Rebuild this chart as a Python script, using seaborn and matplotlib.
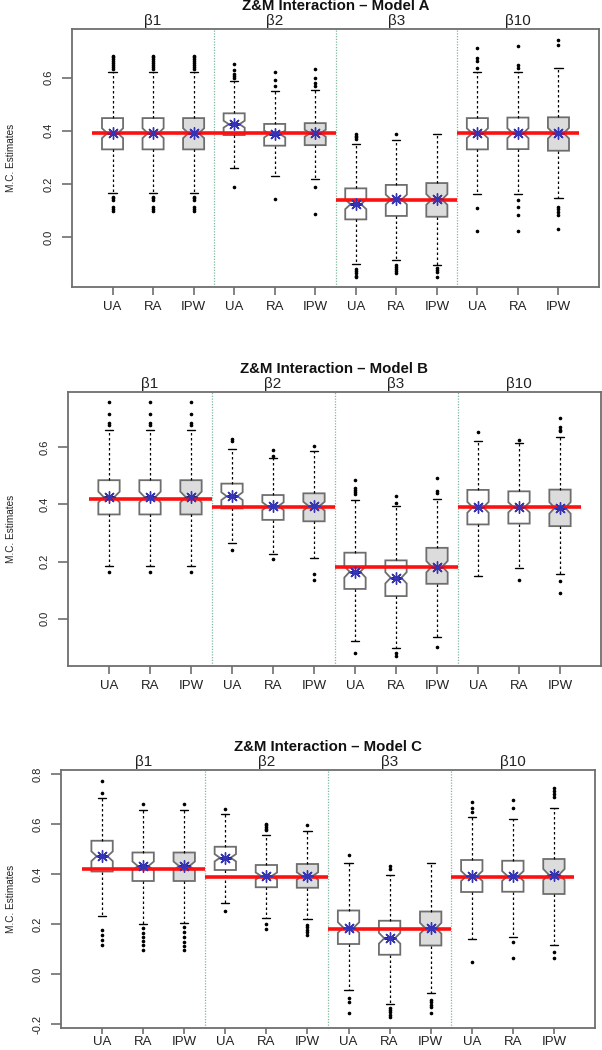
import matplotlib
matplotlib.use("Agg")
import matplotlib.pyplot as plt
import seaborn as sns

# labels
methods = ["UA", "RA", "IPW"] * 4
betas = ["β1", "β2", "β3", "β10"]
titles = ["Z&M Interaction – Model A", "Z&M Interaction – Model B", "Z&M Interaction – Model C"]

# ---- Model A (order: b1 UA RA IPW, b2 ..., b3 ..., b10 ...) ----
A_q1  = [0.330, 0.330, 0.330, 0.384, 0.344, 0.346, 0.066, 0.079, 0.076, 0.330, 0.331, 0.325]
A_med = [0.391, 0.391, 0.391, 0.425, 0.388, 0.391, 0.123, 0.141, 0.141, 0.391, 0.391, 0.391]
A_q3  = [0.448, 0.448, 0.448, 0.466, 0.426, 0.429, 0.183, 0.196, 0.203, 0.448, 0.450, 0.451]
A_lo  = [0.165, 0.165, 0.165, 0.260, 0.228, 0.219, -0.103, -0.088, -0.106, 0.160, 0.160, 0.146]
A_hi  = [0.623, 0.623, 0.623, 0.588, 0.549, 0.553, 0.350, 0.366, 0.388, 0.623, 0.623, 0.636]
A_out = [
    [0.684, 0.678, 0.671, 0.664, 0.656, 0.648, 0.640, 0.632, 0.152, 0.146, 0.140, 0.112, 0.104, 0.098],
    [0.684, 0.678, 0.671, 0.664, 0.656, 0.648, 0.640, 0.632, 0.152, 0.146, 0.140, 0.112, 0.104, 0.098],
    [0.684, 0.678, 0.671, 0.664, 0.656, 0.648, 0.640, 0.632, 0.152, 0.146, 0.140, 0.112, 0.104, 0.098],
    [0.653, 0.631, 0.613, 0.606, 0.600, 0.190],
    [0.621, 0.591, 0.569, 0.143],
    [0.635, 0.598, 0.581, 0.569, 0.188, 0.085],
    [0.388, 0.381, 0.375, 0.369, -0.122, -0.130, -0.138, -0.146, -0.152],
    [0.388, -0.106, -0.114, -0.122, -0.130, -0.138],
    [-0.118, -0.126, -0.134, -0.150],
    [0.713, 0.673, 0.663, 0.638, 0.109, 0.021],
    [0.719, 0.648, 0.638, 0.138, 0.113, 0.084, 0.021],
    [0.744, 0.723, 0.113, 0.104, 0.094, 0.081, 0.029],
]
A_true = [0.39, 0.39, 0.14, 0.39]

# ---- Model B ----
B_q1  = [0.365, 0.365, 0.365, 0.386, 0.346, 0.341, 0.104, 0.079, 0.122, 0.330, 0.333, 0.324]
B_med = [0.426, 0.426, 0.426, 0.429, 0.394, 0.394, 0.164, 0.143, 0.182, 0.390, 0.390, 0.388]
B_q3  = [0.485, 0.485, 0.485, 0.473, 0.433, 0.439, 0.231, 0.204, 0.248, 0.451, 0.446, 0.452]
B_lo  = [0.186, 0.186, 0.186, 0.265, 0.225, 0.213, -0.080, -0.104, -0.064, 0.149, 0.178, 0.158]
B_hi  = [0.662, 0.662, 0.662, 0.594, 0.563, 0.588, 0.414, 0.394, 0.419, 0.624, 0.615, 0.635]
B_out = [
    [0.758, 0.717, 0.687, 0.680, 0.165],
    [0.758, 0.717, 0.687, 0.680, 0.165],
    [0.758, 0.717, 0.687, 0.680, 0.165],
    [0.630, 0.621, 0.239],
    [0.590, 0.569, 0.210],
    [0.606, 0.155, 0.134],
    [0.485, 0.458, 0.450, 0.442, 0.435, -0.119],
    [0.429, 0.405, -0.121, -0.131],
    [0.493, 0.446, 0.440, -0.099],
    [0.654],
    [0.627, 0.135],
    [0.703, 0.670, 0.662, 0.656, 0.132, 0.091],
]
B_true = [0.42, 0.39, 0.18, 0.39]

# ---- Model C ----
C_q1  = [0.410, 0.372, 0.372, 0.416, 0.347, 0.345, 0.120, 0.077, 0.114, 0.328, 0.329, 0.320]
C_med = [0.471, 0.432, 0.432, 0.465, 0.392, 0.392, 0.186, 0.143, 0.183, 0.392, 0.392, 0.398]
C_q3  = [0.533, 0.486, 0.486, 0.509, 0.436, 0.440, 0.254, 0.213, 0.250, 0.456, 0.453, 0.460]
C_lo  = [0.234, 0.202, 0.205, 0.283, 0.226, 0.219, -0.064, -0.118, -0.077, 0.142, 0.149, 0.117]
C_hi  = [0.704, 0.657, 0.657, 0.639, 0.558, 0.571, 0.445, 0.398, 0.446, 0.628, 0.622, 0.664]
C_out = [
    [0.774, 0.725, 0.177, 0.157, 0.137, 0.117],
    [0.681, 0.183, 0.166, 0.149, 0.133, 0.115, 0.097],
    [0.679, 0.190, 0.170, 0.150, 0.130, 0.113, 0.097],
    [0.659, 0.254],
    [0.602, 0.595, 0.588, 0.581, 0.575, 0.199, 0.179],
    [0.598, 0.197, 0.187, 0.177, 0.167, 0.157],
    [0.478, -0.096, -0.112, -0.155],
    [0.433, 0.422, -0.136, -0.145, -0.153, -0.163, -0.173],
    [-0.102, -0.112, -0.122, -0.133, -0.155],
    [0.688, 0.664, 0.648, 0.047],
    [0.697, 0.664, 0.130, 0.064],
    [0.744, 0.732, 0.721, 0.708, 0.090, 0.064],
]
C_true = [0.42, 0.39, 0.18, 0.39]

panels = [
    (A_q1, A_med, A_q3, A_lo, A_hi, A_out, A_true),
    (B_q1, B_med, B_q3, B_lo, B_hi, B_out, B_true),
    (C_q1, C_med, C_q3, C_lo, C_hi, C_out, C_true),
]
ylims = [(-0.189, 0.784), (-0.166, 0.794), (-0.216, 0.816)]
yticks = [[0.0, 0.2, 0.4, 0.6], [0.0, 0.2, 0.4, 0.6], [-0.2, 0.0, 0.2, 0.4, 0.6, 0.8]]
# axes rects in pixels: left, top, right, bottom
rects_px = [(72, 29, 599, 287), (68, 392, 601, 666), (61, 770, 595, 1028)]
xtick_len = [6, 6, 4.5]
xtick_pad = [4, 4, 1.5]
N_REP = 100  # for R-style notch width

sns.set_theme(style="white")
plt.rcParams["font.family"] = ["Liberation Sans", "DejaVu Sans"]

W, H = 602, 1050
fig = plt.figure(figsize=(W / 100, H / 100), dpi=100)
positions = list(range(1, 13))
edge = "#6e6e6e"

for k, (q1, med, q3, lo, hi, out, true) in enumerate(panels):
    l, t, r, b = rects_px[k]
    ax = fig.add_axes([l / W, 1 - b / H, (r - l) / W, (b - t) / H])

    stats = []
    for i in range(12):
        half = 1.58 * (q3[i] - q1[i]) / N_REP ** 0.5
        stats.append(dict(med=med[i], q1=q1[i], q3=q3[i], whislo=lo[i], whishi=hi[i],
                          fliers=out[i], cilo=med[i] - half, cihi=med[i] + half))
    bp = ax.bxp(stats, positions=positions, widths=0.52, capwidths=0.2,
                patch_artist=True, shownotches=True, manage_ticks=False,
                boxprops=dict(edgecolor=edge, linewidth=1.3),
                whiskerprops=dict(color="black", linewidth=0.9, linestyle=(0, (2, 2))),
                capprops=dict(color="black", linewidth=1.0),
                medianprops=dict(color="#1c1c50", linewidth=2.2),
                flierprops=dict(marker="o", markersize=1.6, markerfacecolor="black",
                                markeredgecolor="black"),
                zorder=2)
    for i, box in enumerate(bp["boxes"]):
        box.set_facecolor("#dcdcdc" if methods[i] == "IPW" else "white")

    # true values, one red segment per beta group
    for g in range(4):
        ax.hlines(true[g], 3 * g + 0.5, 3 * g + 3.5, color="#ff1010", linewidth=2.6, zorder=4)
    # group dividers
    for xd in [3.5, 6.5, 9.5]:
        ax.axvline(xd, color="#7fb89c", linewidth=0.9, linestyle=(0, (1, 1.2)), zorder=1)

    sns.scatterplot(x=positions, y=med, marker=(8, 2, 0), s=70, color="#3434b4",
                    linewidth=1.0, ax=ax, legend=False, zorder=5)

    ax.set_xlim(0, 13)
    ax.set_ylim(*ylims[k])
    ax.set_xticks(positions)
    ax.set_xticklabels(methods, fontsize=9.5, color="#222222")
    ax.set_yticks(yticks[k])
    ax.set_yticklabels([f"{v:.1f}" for v in yticks[k]], fontsize=8, rotation=90,
                       va="center", color="#222222")
    ax.tick_params(axis="x", length=xtick_len[k], width=1.2, color=edge,
                   pad=xtick_pad[k], bottom=True)
    ax.tick_params(axis="y", length=7, width=1.2, color=edge, pad=6, left=True)
    for sp in ax.spines.values():
        sp.set_color(edge)
        sp.set_linewidth(1.3)

    for g in range(4):
        ax.annotate(betas[g], xy=(3 * g + 2, 1.0), xycoords=("data", "axes fraction"),
                    xytext=(0, 5.5), textcoords="offset points", ha="center", va="center",
                    fontsize=11, color="#222222")
    ax.annotate(titles[k], xy=(0.5, 1.0), xycoords="axes fraction", xytext=(0, 16.5),
                textcoords="offset points", ha="center", va="center", fontsize=10.8,
                fontweight="bold", color="#111111")
    fig.text(11 / W, 1 - (t + b) / 2 / H, "M.C. Estimates", rotation=90, ha="center",
             va="center", fontsize=7.2, color="#222222")

fig.savefig("out.png", dpi=100)
